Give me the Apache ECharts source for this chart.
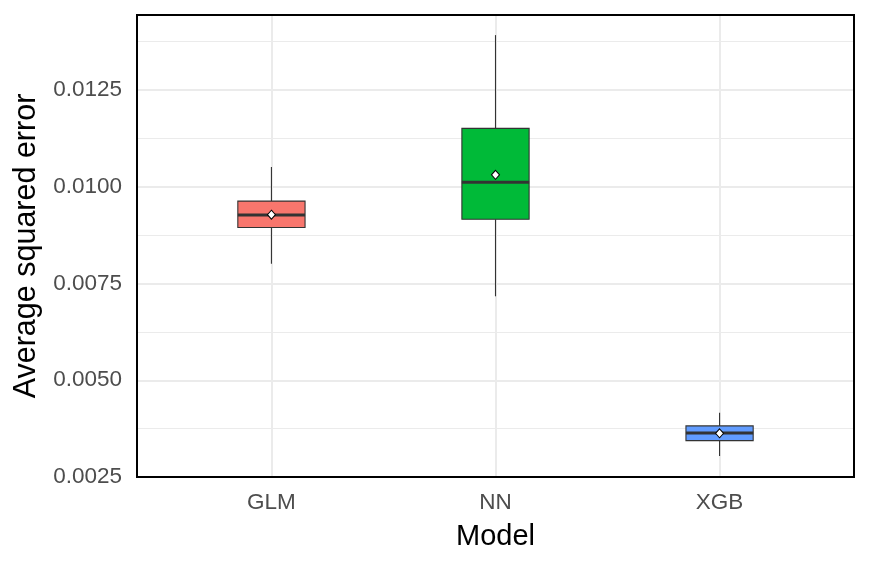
<!DOCTYPE html>
<html>
<head>
<meta charset="utf-8">
<script src="https://cdn.jsdelivr.net/npm/echarts@6/dist/echarts.min.js"></script>
<style>
  html, body { margin: 0; padding: 0; background: #ffffff; }
  #chart { width: 870px; height: 566px; }
</style>
</head>
<body>
<div id="chart"></div>
<script>
// ---- data ----
const models = ['GLM', 'NN', 'XGB'];
const modelPos = [1, 2, 3];
const whiskerLow = [0.00801, 0.00717, 0.00304];
const q1 = [0.00895, 0.00916, 0.00344];
const median = [0.00927, 0.01012, 0.00364];
const q3 = [0.00963, 0.01151, 0.00382];
const whiskerHigh = [0.01051, 0.01392, 0.00416];
const means = [0.00928, 0.01031, 0.00363];
const fillColors = ['#F8766D', '#00BA38', '#619CFF'];

// ---- build ----
const boxData = models.map((m, i) => [modelPos[i], whiskerLow[i], q1[i], median[i], q3[i], whiskerHigh[i]]);
const meanData = models.map((m, i) => [modelPos[i], means[i]]);
const BOX_W = 0.3;
const FONT = "'Liberation Sans', Arial, sans-serif";
const Y_MIN = 0.0025, Y_MAX = 0.01444;

const chart = echarts.init(document.getElementById('chart'), null, { renderer: 'canvas' });

chart.setOption({
  backgroundColor: '#ffffff',
  animation: false,
  grid: {
    left: 137, right: 16, top: 15, bottom: 89,
    show: true, borderColor: '#000000', borderWidth: 2,
    backgroundColor: 'transparent', z: 10
  },
  xAxis: {
    type: 'value', min: 0.4, max: 3.6,
    axisLine: { show: false },
    axisTick: { show: false, customValues: modelPos },
    axisLabel: {
      customValues: modelPos,
      formatter: v => models[Math.round(v) - 1] || '',
      fontSize: 22.5, color: '#4D4D4D', fontFamily: FONT, margin: 14
    },
    splitLine: { show: true, lineStyle: { color: '#EBEBEB', width: 2 } },
    name: 'Model', nameLocation: 'middle', nameGap: 45,
    nameTextStyle: { fontSize: 29, color: '#000000', fontFamily: FONT }
  },
  yAxis: [
    {
      type: 'value', min: Y_MIN, max: Y_MAX, interval: 0.0025,
      axisLine: { show: false },
      axisTick: { show: false },
      axisLabel: {
        showMaxLabel: false,
        formatter: v => Math.abs(v / 0.0025 - Math.round(v / 0.0025)) < 1e-6 ? v.toFixed(4) : '',
        fontSize: 22.5, color: '#4D4D4D', fontFamily: FONT, margin: 15
      },
      splitLine: { show: true, lineStyle: { color: '#EBEBEB', width: 2 } },
      name: 'Average squared error', nameLocation: 'middle', nameGap: 90,
      nameTextStyle: { fontSize: 30.5, color: '#000000', fontFamily: FONT }
    },
    {
      type: 'value', min: Y_MIN, max: Y_MAX, interval: 0.00125, position: 'left',
      axisLine: { show: false }, axisTick: { show: false }, axisLabel: { show: false },
      splitLine: { show: true, lineStyle: { color: '#EBEBEB', width: 1 } }
    }
  ],
  series: [
    {
      type: 'custom',
      data: boxData,
      encode: { x: 0, y: [1, 2, 3, 4, 5] },
      z: 2,
      renderItem: function (params, api) {
        const x = api.value(0);
        const lo = api.coord([x, api.value(1)]);
        const b1 = api.coord([x, api.value(2)]);
        const md = api.coord([x, api.value(3)]);
        const b3 = api.coord([x, api.value(4)]);
        const hi = api.coord([x, api.value(5)]);
        const half = api.size([BOX_W, 0])[0] / 2;
        const col = fillColors[params.dataIndex];
        const ls = { stroke: '#333333', lineWidth: 1.1 };
        return {
          type: 'group',
          children: [
            { type: 'line', shape: { x1: hi[0], y1: hi[1], x2: b3[0], y2: b3[1] }, style: ls },
            { type: 'line', shape: { x1: lo[0], y1: lo[1], x2: b1[0], y2: b1[1] }, style: ls },
            { type: 'rect', shape: { x: b3[0] - half, y: b3[1], width: 2 * half, height: b1[1] - b3[1] },
              style: { fill: col, stroke: '#333333', lineWidth: 1.1 } },
            { type: 'line', shape: { x1: md[0] - half, y1: md[1], x2: md[0] + half, y2: md[1] },
              style: { stroke: '#333333', lineWidth: 3 } }
          ]
        };
      }
    },
    {
      type: 'scatter',
      data: meanData,
      symbol: 'diamond',
      symbolSize: [8, 9],
      z: 3,
      itemStyle: { color: '#ffffff', borderColor: '#000000', borderWidth: 1, opacity: 1 }
    }
  ]
});
</script>
</body>
</html>
